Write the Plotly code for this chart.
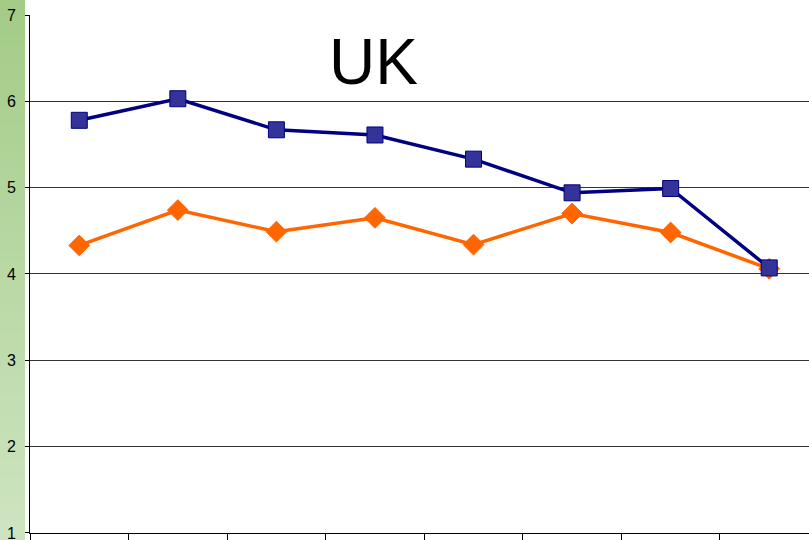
import plotly.graph_objects as go

# data
points = ["1", "2", "3", "4", "5", "6", "7", "8"]
blue_values = [5.78, 6.03, 5.67, 5.61, 5.33, 4.94, 4.99, 4.07]
orange_values = [4.33, 4.74, 4.49, 4.65, 4.34, 4.70, 4.48, 4.06]
y_ticks = [1, 2, 3, 4, 5, 6, 7]

W, H = 809, 540
L, R, T, B = 30, 0, 15, 7
plot_w = W - L - R
plot_h = H - T - B

fig = go.Figure()

fig.add_trace(go.Scatter(
    x=points,
    y=orange_values,
    mode="lines+markers",
    line=dict(color="#FF6600", width=3.5),
    marker=dict(symbol="diamond", size=16, color="#FF6600",
                line=dict(color="#FF6600", width=1)),
    hoverinfo="y",
))

fig.add_trace(go.Scatter(
    x=points,
    y=blue_values,
    mode="lines+markers",
    line=dict(color="#000080", width=3.5),
    marker=dict(symbol="square", size=16, color="#333399",
                line=dict(color="#000080", width=1)),
    hoverinfo="y",
))

# green gradient strip behind the y tick labels
shapes = []
n = 60
top = (163, 204, 135)
bottom = (206, 228, 193)
for i in range(n):
    f = i / (n - 1)
    c = tuple(round(top[k] + (bottom[k] - top[k]) * f) for k in range(3))
    y1 = 1 + T / plot_h - (i / n) * (H / plot_h)
    y0 = 1 + T / plot_h - ((i + 1) / n) * (H / plot_h)
    shapes.append(dict(
        type="rect", xref="paper", yref="paper",
        x0=-L / plot_w, x1=-5 / plot_w, y0=y0 - 0.001, y1=y1 + 0.001,
        fillcolor="rgb(%d,%d,%d)" % c, line=dict(width=0), layer="below",
    ))

fig.update_layout(
    width=W,
    height=H,
    margin=dict(l=L, r=R, t=T, b=B, pad=0, autoexpand=False),
    paper_bgcolor="white",
    plot_bgcolor="white",
    showlegend=False,
    font=dict(family="Liberation Sans, Arial, sans-serif", color="black"),
    shapes=shapes,
    annotations=[dict(
        text="UK", xref="paper", yref="paper",
        x=(373 - L) / plot_w, y=(H - B - 62) / plot_h,
        xanchor="center", yanchor="middle", showarrow=False,
        font=dict(size=64, color="black"),
    )],
)

fig.update_xaxes(
    type="category",
    range=[-0.5, 7.5 - (818.5 - W) / 98.6],
    tickson="boundaries",
    ticks="outside",
    ticklen=7,
    tickcolor="black",
    showticklabels=False,
    showgrid=False,
    showline=True,
    linecolor="black",
    linewidth=1,
    zeroline=False,
    automargin=False,
)

fig.update_yaxes(
    range=[0.999, 7],
    tickvals=y_ticks,
    ticks="outside",
    ticklen=4,
    tickcolor="black",
    ticklabelstandoff=6,
    ticklabeloverflow="allow",
    tickfont=dict(size=16, color="black"),
    showgrid=True,
    gridcolor="#333333",
    gridwidth=1,
    showline=True,
    linecolor="black",
    linewidth=1,
    zeroline=False,
    automargin=False,
)

# the page has a default 8px body margin; drop it so the chart fills the window
fig.write_html(
    "out.html",
    config={"displayModeBar": False},
    post_script="document.body.style.margin='0';",
)
